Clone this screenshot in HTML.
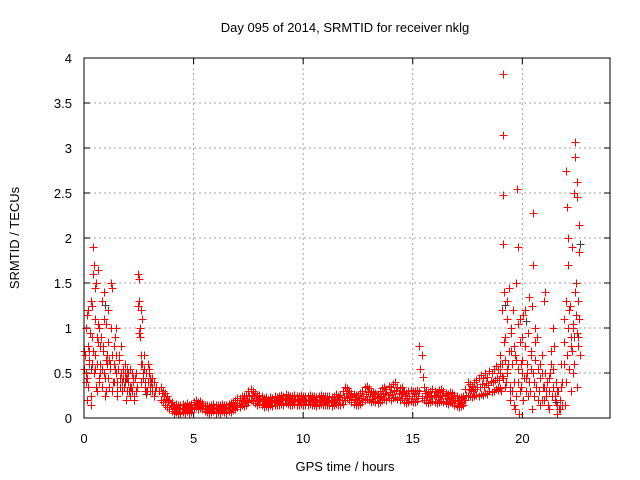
<!DOCTYPE html>
<html><head><meta charset="utf-8"><style>
body{margin:0;background:#fff;}
svg{display:block;font-family:"Liberation Sans",sans-serif;}
</style></head><body>
<svg id="chart" width="640" height="480" viewBox="0 0 640 480">
<rect width="640" height="480" fill="#fff"/>
<text x="345" y="32" font-size="13" text-anchor="middle">Day 095 of 2014, SRMTID for receiver nklg</text>
<text x="345" y="471" font-size="13" text-anchor="middle">GPS time / hours</text>
<text transform="translate(19,238) rotate(-90)" font-size="13" text-anchor="middle">SRMTID / TECUs</text>
<g id="grid"></g>
<g id="ticks"></g>
<g id="marks" shape-rendering="crispEdges"></g>
<rect x="84" y="58" width="526" height="360" fill="none" stroke="#000" stroke-width="1"/>
</svg>
<script>
const xTicks=[0,5,10,15,20];
const yTicks=[0,0.5,1,1.5,2,2.5,3,3.5,4];
const yTickLabels=["0","0.5","1","1.5","2","2.5","3","3.5","4"];
const baseStart=3.5, baseStep=0.1;
const baseLow=[0.2,0.18,0.15,0.12,0.1,0.08,0.06,0.07,0.05,0.06,0.07,0.06,0.08,0.06,0.07,0.1,0.12,0.1,0.11,0.1,0.08,0.07,0.06,0.07,0.08,0.06,0.07,0.06,0.08,0.07,0.06,0.08,0.07,0.09,0.1,0.12,0.12,0.14,0.13,0.15,0.18,0.2,0.19,0.17,0.15,0.16,0.14,0.12,0.13,0.12,0.14,0.13,0.15,0.14,0.15,0.16,0.15,0.17,0.16,0.15,0.14,0.16,0.15,0.14,0.16,0.15,0.14,0.15,0.16,0.15,0.14,0.13,0.15,0.16,0.15,0.14,0.15,0.14,0.13,0.15,0.16,0.14,0.15,0.16,0.2,0.22,0.2,0.18,0.16,0.15,0.15,0.16,0.18,0.2,0.21,0.2,0.18,0.19,0.18,0.17,0.18,0.2,0.21,0.2,0.22,0.2,0.22,0.23,0.21,0.2,0.22,0.18,0.17,0.18,0.19,0.18,0.18,0.19,0.3,0.22,0.2,0.18,0.17,0.18,0.19,0.18,0.17,0.18,0.19,0.18,0.17,0.16,0.18,0.17,0.15,0.13,0.12,0.13,0.14,0.2,0.25,0.24,0.23,0.25,0.26,0.25,0.27,0.26,0.28,0.27,0.3,0.29,0.3,0.32,0.31,0.33];
const baseHigh=[0.35,0.3,0.28,0.25,0.2,0.18,0.15,0.16,0.14,0.15,0.16,0.15,0.17,0.15,0.16,0.18,0.2,0.18,0.19,0.17,0.15,0.14,0.13,0.15,0.16,0.14,0.15,0.14,0.16,0.15,0.14,0.16,0.17,0.18,0.2,0.22,0.22,0.25,0.24,0.26,0.3,0.32,0.3,0.28,0.26,0.26,0.24,0.22,0.23,0.21,0.23,0.22,0.24,0.23,0.25,0.26,0.25,0.27,0.26,0.25,0.24,0.26,0.25,0.24,0.26,0.25,0.24,0.25,0.26,0.25,0.24,0.23,0.25,0.26,0.25,0.24,0.25,0.24,0.23,0.25,0.27,0.25,0.26,0.3,0.35,0.33,0.3,0.28,0.27,0.26,0.26,0.28,0.3,0.34,0.36,0.33,0.3,0.29,0.28,0.27,0.3,0.33,0.35,0.32,0.36,0.34,0.38,0.4,0.35,0.33,0.35,0.3,0.28,0.3,0.31,0.3,0.3,0.31,0.8,0.7,0.35,0.3,0.29,0.3,0.32,0.3,0.29,0.31,0.32,0.3,0.28,0.27,0.29,0.28,0.26,0.24,0.22,0.23,0.25,0.32,0.4,0.38,0.36,0.4,0.42,0.45,0.48,0.44,0.5,0.46,0.52,0.5,0.55,0.58,0.54,0.6];
const earlyT=[0.0,0.05,0.1,0.1,0.15,0.2,0.2,0.25,0.3,0.3,0.35,0.4,0.4,0.45,0.45,0.5,0.5,0.55,0.6,0.6,0.65,0.7,0.7,0.75,0.8,0.8,0.85,0.9,0.9,1.0,1.0,1.05,1.1,1.1,1.2,1.25,1.3,1.3,1.35,1.4,1.45,1.5,1.5,1.6,1.65,1.7,1.75,1.8,1.9,1.95,2.0,2.05,2.1,2.2,2.3,2.35,2.45,2.5,2.5,2.55,2.55,2.6,2.65,2.7,2.75,2.8,2.85,2.9,2.95,3.0,3.1,3.2,3.3,3.4,0.15,0.35,0.55,0.75,0.95,1.15,1.35,1.55,1.75,1.95,2.15,2.35,2.6,2.8,3.0,3.2,0.25,0.65,1.05,1.45,1.85,2.25,2.65,3.05];
const earlyV=[0.55,0.7,1.0,0.4,0.2,1.2,0.8,0.6,1.3,0.15,0.9,1.9,1.6,1.7,0.5,1.1,0.7,1.5,0.3,0.9,1.65,1.0,0.4,0.6,1.3,0.35,0.8,1.4,0.5,0.3,1.05,0.7,1.2,0.45,0.6,1.5,1.45,0.3,0.8,0.55,1.0,0.4,0.25,0.7,0.35,0.5,0.3,0.45,0.2,0.55,0.4,0.3,0.25,0.5,0.2,0.3,1.6,1.3,1.55,1.0,0.9,0.6,1.1,0.5,0.7,0.4,0.3,0.6,0.5,0.45,0.3,0.4,0.35,0.3,0.45,0.6,0.35,0.5,0.25,0.65,0.4,0.55,0.3,0.45,0.35,0.5,0.4,0.3,0.35,0.25,0.75,0.85,0.6,0.7,0.5,0.45,0.6,0.4];
const earlyT2=[0.02,0.08,0.12,0.18,0.22,0.28,0.32,0.38,0.42,0.48,0.52,0.58,0.62,0.68,0.72,0.78,0.82,0.88,0.92,0.98,1.02,1.08,1.12,1.18,1.22,1.28,1.32,1.38,1.42,1.48,1.52,1.58,1.62,1.68,1.72,1.78,1.82,1.88,1.92,1.98,2.02,2.08,2.12,2.18,2.22,2.28,2.32,2.38,2.42,2.48,2.52,2.58,2.62,2.68,2.72,2.78,2.82,2.88,2.92,2.98,3.02,3.08,3.12,3.18,3.22,3.28];
const earlyV2=[0.75,0.5,1.15,0.35,0.65,0.95,0.25,1.25,0.75,0.55,1.45,0.6,1.05,0.45,0.8,0.9,0.55,0.75,1.1,0.45,0.65,0.85,0.35,0.55,1.0,0.7,0.4,0.6,0.9,0.5,0.3,0.65,0.45,0.8,0.4,0.55,0.35,0.6,0.45,0.3,0.5,0.35,0.55,0.3,0.4,0.25,0.45,0.3,0.35,1.25,0.95,1.2,0.7,0.45,0.55,0.35,0.5,0.3,0.4,0.55,0.3,0.45,0.35,0.4,0.3,0.35];
const lateT=[19.0,19.0,19.05,19.1,19.1,19.1,19.1,19.15,19.2,19.25,19.3,19.35,19.4,19.45,19.5,19.55,19.6,19.65,19.7,19.75,19.8,19.8,19.85,19.9,19.95,20.0,20.05,20.1,20.2,20.3,20.35,20.4,20.45,20.5,20.5,20.55,20.6,20.7,20.8,20.9,21.0,21.05,21.1,21.2,21.3,21.4,21.45,21.5,21.6,21.7,21.8,21.9,22.0,22.05,22.1,22.1,22.15,22.2,22.25,22.3,22.35,22.4,22.4,22.45,22.5,22.5,22.55,22.6,22.6,22.65,22.5,22.2,21.95,21.2,20.8,20.25,19.6,18.9,19.3,19.5,19.7,19.9,20.15,20.6,20.95,21.35,21.75,22.3,22.55,19.2,19.45,20.0,20.4,21.0,21.6,22.0,22.45];
const lateV=[0.5,0.7,1.2,3.82,3.15,2.48,1.93,1.4,0.9,0.4,1.3,0.6,1.45,0.2,1.0,0.3,0.8,0.1,1.5,2.55,1.9,0.4,0.05,1.1,0.6,0.9,0.2,1.2,0.5,1.35,0.3,0.7,0.1,2.28,1.7,0.4,1.0,0.2,0.15,0.5,1.3,1.4,0.3,0.1,0.6,1.0,0.8,0.2,0.05,0.1,0.4,1.1,2.75,2.35,2.0,1.7,1.2,0.8,1.9,0.5,2.5,2.9,3.07,1.5,2.62,2.45,1.3,2.15,1.85,0.7,0.35,0.3,0.15,0.45,0.6,0.25,0.15,0.35,0.55,0.75,0.65,0.3,0.45,0.85,0.35,0.25,0.6,1.0,0.9,0.65,0.35,0.5,0.55,0.2,0.3,0.4,1.15];
const lateT2=[19.02,19.08,19.12,19.18,19.22,19.28,19.32,19.38,19.42,19.48,19.52,19.58,19.62,19.68,19.72,19.78,19.82,19.88,19.92,19.98,20.02,20.08,20.12,20.18,20.22,20.28,20.32,20.38,20.42,20.48,20.52,20.58,20.62,20.68,20.72,20.78,20.82,20.88,20.92,20.98,21.02,21.08,21.12,21.18,21.22,21.28,21.32,21.38,21.42,21.48,21.52,21.58,21.62,21.68,21.72,21.78,21.82,21.88,21.92,21.98,22.02,22.08,22.12,22.18,22.22,22.28,22.32,22.38,22.42,22.48,22.52,22.58,22.62];
const lateV2=[0.3,0.6,0.45,0.85,0.35,1.1,0.5,0.75,0.3,0.95,0.6,1.2,0.4,0.7,0.25,1.05,0.55,0.85,0.35,0.65,1.15,0.45,0.8,0.3,0.6,0.95,0.4,0.75,1.25,0.5,0.25,0.65,0.35,0.9,0.55,0.3,0.45,0.7,0.2,0.35,0.5,0.25,0.4,0.15,0.3,0.5,0.75,0.35,0.55,0.25,0.4,0.15,0.3,0.1,0.2,0.35,0.15,0.6,0.85,1.3,0.7,1.0,0.55,1.25,0.9,0.75,1.05,0.6,1.4,0.95,0.8,1.1,0.7];
const X0=84,X1=610,Y0=418,Y1=58,XMAX=24,YMAX=4;
function xs(t){return X0+(X1-X0)*t/XMAX;}
function ys(v){return Y0-(Y0-Y1)*v/YMAX;}
const NS='http://www.w3.org/2000/svg';
const grid=document.getElementById('grid'),ticks=document.getElementById('ticks'),marks=document.getElementById('marks');
function mk(tag,attrs,parent){const e=document.createElementNS(NS,tag);for(const k in attrs)e.setAttribute(k,attrs[k]);parent.appendChild(e);return e;}
xTicks.forEach((t,i)=>{
  const x=xs(t);
  if(t>0){const g=mk('line',{x1:x,y1:Y1,x2:x,y2:Y0,stroke:'#a0a0a0','stroke-dasharray':'2,3'},grid);
  
  }
  mk('line',{x1:x,y1:Y0,x2:x,y2:Y0-6,stroke:'#000'},ticks);
  mk('line',{x1:x,y1:Y1,x2:x,y2:Y1+6,stroke:'#000'},ticks);
  const l=mk('text',{x:x,y:Y0+25,'font-size':13,'text-anchor':'middle'},ticks);
  l.textContent=String(t);
  
  
});
yTicks.forEach((v,i)=>{
  const y=ys(v);
  if(v>0&&v<YMAX){const g=mk('line',{x1:X0,y1:y,x2:X1,y2:y,stroke:'#a0a0a0','stroke-dasharray':'2,3'},grid);
  
  }
  mk('line',{x1:X0,y1:y,x2:X0+6,y2:y,stroke:'#000'},ticks);
  mk('line',{x1:X1,y1:y,x2:X1-6,y2:y,stroke:'#000'},ticks);
  const l=mk('text',{x:X0-12,y:y+5,'font-size':13,'text-anchor':'end'},ticks);
  l.textContent=yTickLabels[i];
  
  
});
function plus(t,v,color){
  const x=Math.round(xs(t))+0.5,y=Math.round(ys(v))+0.5;
  const p=mk('path',{d:`M${x-4},${y}H${x+4}M${x},${y-4}V${y+4}`,stroke:color,'stroke-width':1,fill:'none'},marks);
  
  
}
earlyT.forEach((t,i)=>{if(i%20===7)plus(t+0.05,earlyV[i]*0.9,'#404040');});
lateT.forEach((t,i)=>{if(i%20===7)plus(t+0.05,lateV[i]*0.9,'#404040');});
baseLow.forEach((v,i)=>{
  const t=baseStart+baseStep*i;
  plus(t,v,'#ff0000');
  plus(t+0.05,(v+baseHigh[i])/2,'#ff0000');
  plus(t,baseHigh[i],'#ff0000');
});
earlyT.forEach((t,i)=>plus(t,earlyV[i],'#ff0000'));
earlyT2.forEach((t,i)=>plus(t,earlyV2[i],'#ff0000'));
lateT.forEach((t,i)=>plus(t,lateV[i],'#ff0000'));
lateT2.forEach((t,i)=>plus(t,lateV2[i],'#ff0000'));
</script>
</body></html>
